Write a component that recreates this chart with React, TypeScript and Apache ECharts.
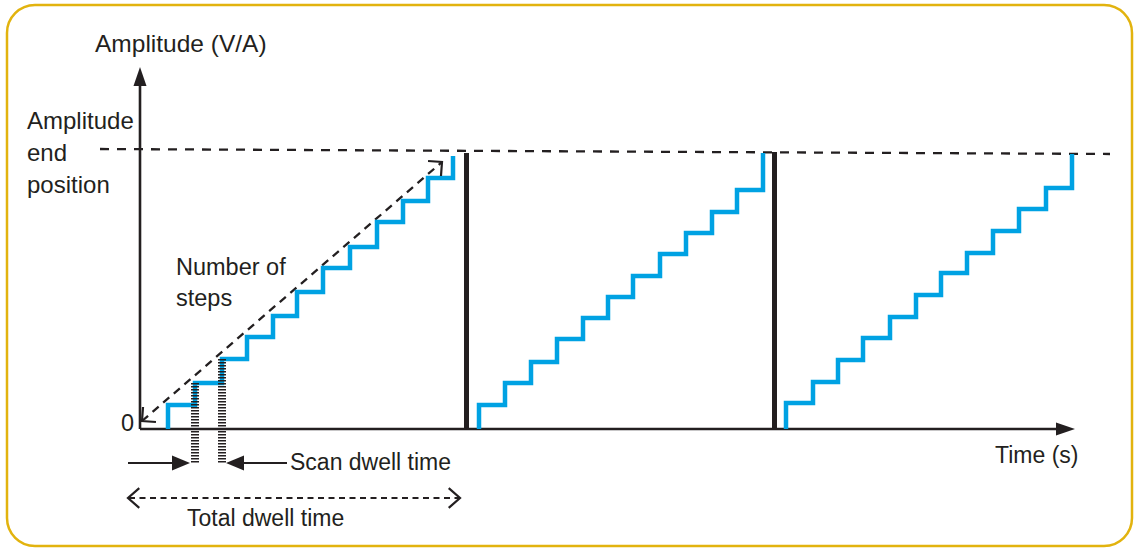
import React, { useEffect, useRef } from 'react';
import * as echarts from 'echarts';

// Time offsets (from origin) where each stair rises, and the amplitude levels reached
const stair1X = [28, 55, 82, 107, 133, 157, 183, 210, 237, 263, 288, 313];
const stair1Y = [24, 46, 70, 92, 113, 137, 161, 182, 207, 228, 251, 273];
const stair2X = [339, 365, 391, 417, 443, 468, 493, 520, 546, 572, 597, 623];
const stair2Y = [24, 46, 67, 90, 111, 132, 153, 175, 196, 217, 239, 276];
const stair3X = [646, 673, 698, 723, 750, 776, 801, 827, 853, 879, 906, 932];
const stair3Y = [26, 47, 69, 91, 112, 134, 156, 176, 198, 220, 241, 275];

// Reset (black) bars between scans
const resetX = [326.5, 634.5];
const resetTop = [276, 277];

// Axes extents (time axis end, amplitude axis end)
const timeAxisEnd = 935;
const ampAxisEnd = 362;

// Amplitude end position dashed line
const endLine = [[-40, 280], [970, 275]];
// "Number of steps" diagonal
const diagLine = [[2, 8], [302, 267]];
// Scan dwell hatch markers
const hatchX = [55, 82];
const hatchTop = [46, 70];
const hatchBottom = -34;
// Scan dwell arrows: [from, tip] at y = hatchBottom
const scanArrowL = [-12, 50];
const scanArrowR = [147, 86];
// Total dwell arrow
const totalArrow = [-12, 320];
const totalY = -69;

function stairPoints(xs: number[], ys: number[]) {
  const pts: number[][] = [];
  xs.forEach((x, i) => {
    pts.push([x, i === 0 ? 0 : ys[i - 1]]);
    pts.push([x, ys[i]]);
  });
  return pts;
}

const INK = '#231F20';
const BLUE = '#00A2E3';
const FONT = '"Liberation Sans", Arial, sans-serif';

export default function App() {
  const ref = useRef<HTMLDivElement>(null);
  useEffect(() => {
    const chart = echarts.init(ref.current!, null, { renderer: 'svg' });
    const ls = (data: any, color: string, width: number, type: any = 'solid', z = 2) => ({
      type: 'line',
      data,
      symbol: 'none',
      showSymbol: false,
      clip: false,
      silent: true,
      z,
      lineStyle: { color, width, type, cap: 'butt', join: 'miter' },
    });
    const series: any[] = [
      ls([[0, 0], [timeAxisEnd - 16, 0]], INK, 2.6, 'solid', 2),
      ls([[0, 0], [0, ampAxisEnd - 16]], INK, 2.6, 'solid', 2),
      ls(endLine, INK, 2.3, [9, 8], 1),
      ls(diagLine, INK, 2.3, [8, 6], 1),
      ls(stairPoints(stair1X, stair1Y), BLUE, 4.5),
      ls(stairPoints(stair2X, stair2Y), BLUE, 4.5),
      ls(stairPoints(stair3X, stair3Y), BLUE, 4.5),
      ...resetX.map((x, i) => ls([[x, 0], [x, resetTop[i]]], INK, 5, 'solid', 3)),
      ...hatchX.map((x, i) => ls([[x, hatchTop[i]], [x, hatchBottom]], INK, 8, [1.5, 1.5], 4)),
      ls([[scanArrowL[0], hatchBottom], [scanArrowL[1] - 14, hatchBottom]], INK, 2),
      ls([[scanArrowR[0], hatchBottom], [scanArrowR[1] + 14, hatchBottom]], INK, 2),
      ls([[totalArrow[0] + 1, totalY], [totalArrow[1] - 1, totalY]], INK, 2, [6, 4.5]),
    ];
    const hidden = {
      axisLine: { show: false }, axisTick: { show: false }, axisLabel: { show: false }, splitLine: { show: false },
    };
    chart.setOption({
      animation: false,
      grid: { left: 100, top: 67, right: 26, bottom: 50 },
      xAxis: { type: 'value', min: -40, max: 970, ...hidden },
      yAxis: { type: 'value', min: -69, max: 362, ...hidden },
      series,
    });

    const px = (p: number[]) => chart.convertToPixel({ gridIndex: 0 }, p) as number[];
    const openHead = (tipD: number[], fromD: number[], len: number, ang: number) => {
      const t = px(tipD), f = px(fromD);
      const dx = t[0] - f[0], dy = t[1] - f[1];
      const l = Math.hypot(dx, dy);
      const ux = dx / l, uy = dy / l;
      const arm = (a: number) => [t[0] - len * (ux * Math.cos(a) - uy * Math.sin(a)), t[1] - len * (ux * Math.sin(a) + uy * Math.cos(a))];
      return {
        type: 'polyline', z: 10,
        shape: { points: [arm(ang), t, arm(-ang)] },
        style: { stroke: INK, lineWidth: 2.2, fill: 'none' },
      };
    };
    const filledHead = (tipD: number[], fromD: number[], len: number, hw: number) => {
      const t = px(tipD), f = px(fromD);
      const dx = t[0] - f[0], dy = t[1] - f[1];
      const l = Math.hypot(dx, dy);
      const ux = dx / l, uy = dy / l;
      const bx = t[0] - ux * len, by = t[1] - uy * len;
      return {
        type: 'polygon', z: 10,
        shape: { points: [t, [bx - uy * hw, by + ux * hw], [bx + uy * hw, by - ux * hw]] },
        style: { fill: INK },
      };
    };
    const text = (t: string, x: number, y: number, size: number, lh = 32) => ({
      type: 'text', x, y, z: 10,
      style: {
        text: t, fontSize: size, fontFamily: FONT, fill: INK, lineHeight: lh,
        align: 'left', verticalAlign: 'middle', textAlign: 'left', textVerticalAlign: 'middle',
      },
    });

    chart.setOption({
      graphic: [
        {
          type: 'rect', z: 0,
          shape: { x: 7, y: 5, width: 1125, height: 541, r: 28 },
          style: { fill: 'none', stroke: '#E2B30E', lineWidth: 2.5 },
        },
        filledHead([timeAxisEnd, 0], [0, 0], 19, 6.5),
        filledHead([0, ampAxisEnd], [0, 0], 19, 6.5),
        openHead(diagLine[1], diagLine[0], 14, Math.PI / 4),
        openHead(diagLine[0], diagLine[1], 14, Math.PI / 4),
        openHead([totalArrow[0], totalY], [totalArrow[1], totalY], 15, 0.72),
        openHead([totalArrow[1], totalY], [totalArrow[0], totalY], 15, 0.72),
        filledHead([scanArrowL[1], hatchBottom], [scanArrowL[0], hatchBottom], 18, 7.5),
        filledHead([scanArrowR[1], hatchBottom], [scanArrowR[0], hatchBottom], 18, 7.5),
        text('Amplitude (V/A)', 95, 43, 24.5),
        text('Amplitude\nend\nposition', 27, 152, 24, 32),
        text('0', 121, 423, 23.5),
        text('Number of\nsteps', 176, 282, 23.5, 31),
        text('Scan dwell time', 290, 462, 23),
        text('Total dwell time', 187, 518, 23),
        text('Time (s)', 995, 455, 23),
      ],
    });
    return () => chart.dispose();
  }, []);
  return <div ref={ref} style={{ position: 'fixed', left: 0, top: 0, width: 1136, height: 548, background: '#fff' }} />;
}
